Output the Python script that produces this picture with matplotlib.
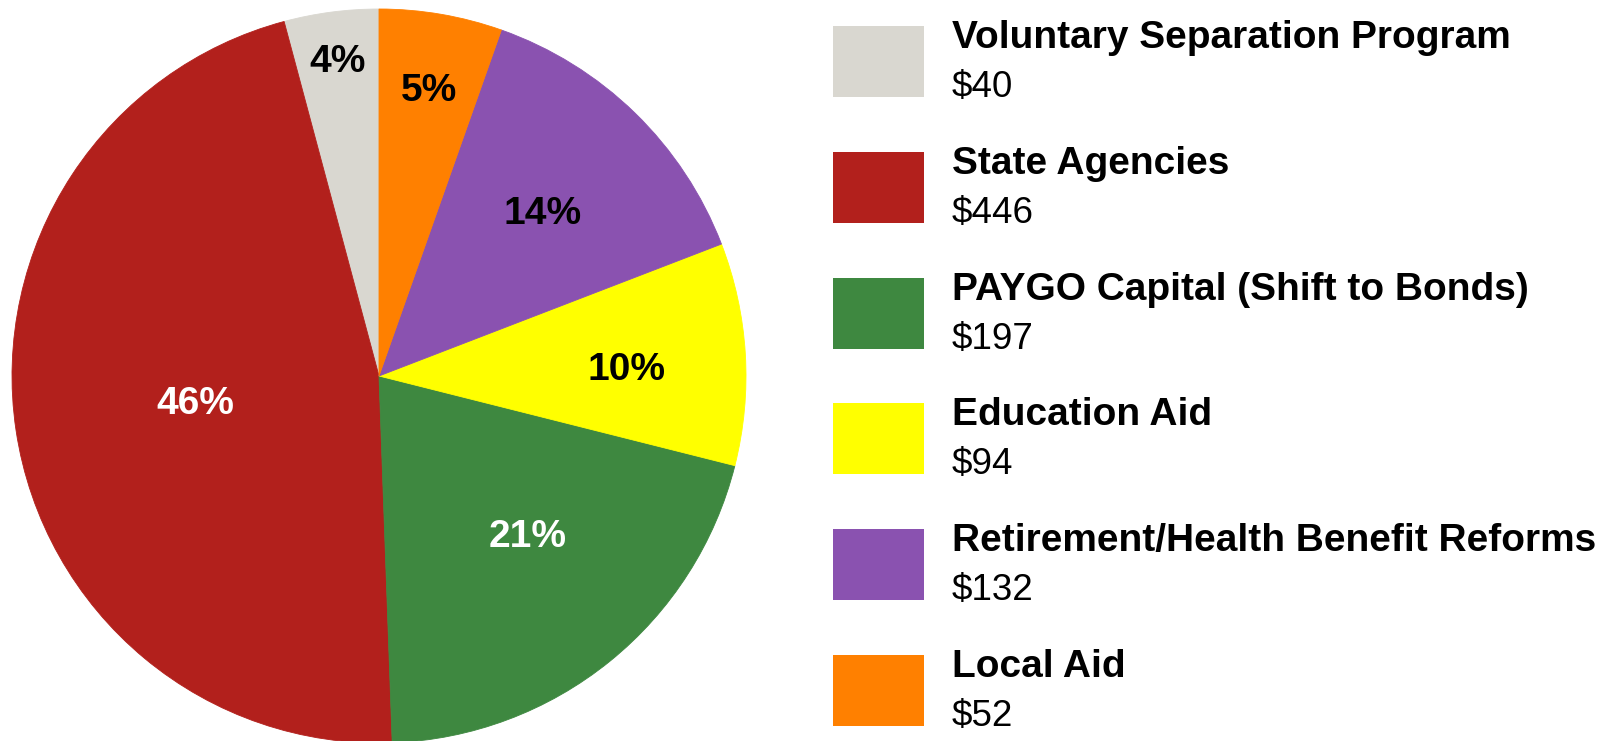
import matplotlib
matplotlib.use("Agg")
import matplotlib.pyplot as plt
from matplotlib.patches import Rectangle
import numpy as np

# ---- data (legend order) ----
categories = ["Voluntary Separation Program", "State Agencies",
              "PAYGO Capital (Shift to Bonds)", "Education Aid",
              "Retirement/Health Benefit Reforms", "Local Aid"]
values = [40, 446, 197, 94, 132, 52]
value_labels = ["$40", "$446", "$197", "$94", "$132", "$52"]
pct_labels = ["4%", "46%", "21%", "10%", "14%", "5%"]

# ---- styles ----
colors = ["#D9D7D0", "#B2201C", "#3E8840", "#FFFF00", "#8A52B0", "#FF8000"]
pct_colors = ["black", "white", "white", "black", "black", "black"]
pct_radius = [0.875, 0.505, 0.59, 0.675, 0.635, 0.80]
pct_angle_shift = [0, -1, 4.5, -1.2, -0.5, 0]

plt.rcParams['font.family'] = ['Liberation Sans', 'DejaVu Sans']

W, H = 1617, 741
fig = plt.figure(figsize=(W / 100, H / 100), dpi=100)
fig.patch.set_facecolor("white")

# pie axes: center (379, 376) px from top-left, radius 367 px
cx, cy, r = 379, 376, 367
ax = fig.add_axes([(cx - r) / W, (H - cy - r) / H, 2 * r / W, 2 * r / H])
wedges, _ = ax.pie(values, colors=colors, startangle=90, counterclock=True,
                   wedgeprops=dict(linewidth=0.6))
for w, c in zip(wedges, colors):
    w.set_edgecolor(c)
ax.set_xlim(-1, 1)
ax.set_ylim(-1, 1)
ax.set_aspect("equal")
ax.axis("off")

for w, lab, col, rad, sh in zip(wedges, pct_labels, pct_colors, pct_radius, pct_angle_shift):
    ang = np.deg2rad((w.theta1 + w.theta2) / 2 + sh)
    ax.text(rad * np.cos(ang), rad * np.sin(ang), lab, ha="center", va="center_baseline",
            fontsize=28, fontweight="bold", color=col)

# ---- legend ----
box_x, box_w, box_h = 833, 91, 71
top0, step = 26, 125.8
text_x = 952
for i, (cat, vl, col) in enumerate(zip(categories, value_labels, colors)):
    top = top0 + i * step
    fig.patches.append(Rectangle((box_x / W, (H - top - box_h) / H), box_w / W, box_h / H,
                                 transform=fig.transFigure, facecolor=col,
                                 edgecolor="none"))
    fig.text(text_x / W, (H - (top + 22)) / H, cat, fontsize=28, fontweight="bold",
             va="baseline", ha="left", color="black")
    fig.text(text_x / W, (H - (top + 71)) / H, vl, fontsize=26.5,
             va="baseline", ha="left", color="black")

fig.savefig("out.png", dpi=100, facecolor="white")
